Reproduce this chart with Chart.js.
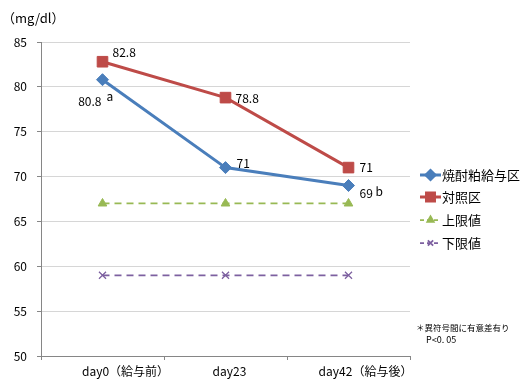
<!DOCTYPE html>
<html>
<head>
<meta charset="utf-8">
<script src="https://cdn.jsdelivr.net/npm/chart.js@4.4.1/dist/chart.umd.min.js"></script>
<style>
  html, body { margin: 0; padding: 0; background: #fff; }
  #wrap { width: 527px; height: 379px; position: relative; }
</style>
</head>
<body>
<div id="wrap"><canvas id="c" width="527" height="379"></canvas></div>
<script>
// Blood glucose by feeding period
const categories = ['day0（給与前）', 'day23', 'day42（給与後）'];
const shochuLees = [80.8, 71, 69];
const control = [82.8, 78.8, 71];
const upperLimit = [67, 67, 67];
const lowerLimit = [59, 59, 59];
const yTicks = [50, 55, 60, 65, 70, 75, 80, 85];
const seriesNames = ['焼酎粕給与区', '対照区', '上限値', '下限値'];
const sigMarks = ['a', '', 'b'];
const unitLabel = '（mg/dl）';
const noteLines = ['＊異符号間に有意差有り', 'P<0. 05'];

const FONT = '"Noto Sans CJK JP", "Noto Sans", sans-serif';
const TEXT = '#000000';

// horizontal nudge of each category caption from its tick centre
const categoryShift = [23, 4, 17];

// value label placement per series/point (dx, dy from the point, alignment)
const labelPlacement = {
  0: [{ dx: -1, dy: 22, align: 'right', sup: { dx: 4, dy: 17 } },
      { dx: 11, dy: -4, align: 'left' },
      { dx: 11, dy: 8, align: 'left', sup: { dx: 27, dy: 6 } }],
  1: [{ dx: 10, dy: -9, align: 'left' },
      { dx: 10, dy: 1, align: 'left' },
      { dx: 11, dy: 0, align: 'left' }]
};

const valueLabels = {
  id: 'valueLabels',
  afterDatasetsDraw(chart) {
    const ctx = chart.ctx;
    ctx.save();
    ctx.fillStyle = TEXT;
    ctx.textBaseline = 'middle';
    [0, 1].forEach(di => {
      const meta = chart.getDatasetMeta(di);
      const data = chart.data.datasets[di].data;
      meta.data.forEach((pt, i) => {
        const p = labelPlacement[di][i];
        ctx.font = '12px ' + FONT;
        ctx.textAlign = p.align;
        ctx.fillText(String(data[i]), pt.x + p.dx, pt.y + p.dy);
        if (di === 0 && sigMarks[i] && p.sup) {
          ctx.textAlign = 'left';
          ctx.fillText(sigMarks[i], pt.x + p.sup.dx, pt.y + p.sup.dy);
        }
      });
    });
    ctx.restore();
  }
};

// category captions under the x axis, positioned from the category scale
const categoryCaptions = {
  id: 'categoryCaptions',
  afterDraw(chart) {
    const ctx = chart.ctx;
    const xs = chart.scales.x;
    ctx.save();
    ctx.fillStyle = TEXT;
    ctx.font = '12px ' + FONT;
    ctx.textAlign = 'center';
    ctx.textBaseline = 'middle';
    categories.forEach((c, i) => {
      ctx.fillText(c, xs.getPixelForTick(i) + categoryShift[i], xs.bottom - 8);
    });
    ctx.restore();
  }
};

// legend at the right: short line sample with the marker, then the name
const sideLegend = {
  id: 'sideLegend',
  afterDraw(chart) {
    const ctx = chart.ctx;
    ctx.save();
    const x0 = 420, x1 = 441, rows = [175, 197, 220, 243];
    chart.data.datasets.forEach((ds, i) => {
      const y = rows[i];
      ctx.strokeStyle = ds.borderColor;
      ctx.lineWidth = ds.borderWidth;
      ctx.setLineDash(ds.borderDash ? [4, 3] : []);
      ctx.beginPath();
      ctx.moveTo(x0, y);
      ctx.lineTo(x1, y);
      ctx.stroke();
      ctx.setLineDash([]);
      ctx.fillStyle = ds.pointBackgroundColor;
      ctx.strokeStyle = ds.pointBorderColor;
      Chart.helpers.drawPoint(ctx, {
        pointStyle: ds.pointStyle,
        radius: ds.pointRadius * 0.75,
        borderWidth: ds.pointBorderWidth || 1
      }, (x0 + x1) / 2, y);
      ctx.fillStyle = TEXT;
      ctx.font = '13px ' + FONT;
      ctx.textAlign = 'left';
      ctx.textBaseline = 'middle';
      ctx.fillText(ds.label, x1 + 1, y);
    });
    ctx.restore();
  }
};

const annotations = {
  id: 'annotations',
  afterDraw(chart) {
    const ctx = chart.ctx;
    ctx.save();
    ctx.fillStyle = TEXT;
    ctx.textBaseline = 'middle';
    ctx.textAlign = 'left';
    ctx.font = '13px ' + FONT;
    ctx.fillText(unitLabel, 2, 18);
    ctx.font = '8.5px ' + FONT;
    ctx.fillText(noteLines[0], 416, 328);
    ctx.font = '9px ' + FONT;
    ctx.fillText(noteLines[1], 426, 340);
    ctx.restore();
  }
};

new Chart(document.getElementById('c'), {
  type: 'line',
  data: {
    labels: categories,
    datasets: [
      {
        label: seriesNames[0], data: shochuLees,
        borderColor: '#4A7EBB', backgroundColor: '#4A7EBB',
        borderWidth: 3, pointStyle: 'rectRot', pointRadius: 6,
        pointBorderWidth: 1, pointBackgroundColor: '#4A7EBB', pointBorderColor: '#4A7EBB'
      },
      {
        label: seriesNames[1], data: control,
        borderColor: '#BE4B48', backgroundColor: '#BE4B48',
        borderWidth: 3, pointStyle: 'rect', pointRadius: 7.5,
        pointBorderWidth: 1, pointBackgroundColor: '#BE4B48', pointBorderColor: '#BE4B48'
      },
      {
        label: seriesNames[2], data: upperLimit,
        borderColor: '#98B954', backgroundColor: '#98B954',
        borderWidth: 1.75, borderDash: [7, 5], pointStyle: 'triangle', pointRadius: 5,
        pointBorderWidth: 1, pointBackgroundColor: '#98B954', pointBorderColor: '#98B954'
      },
      {
        label: seriesNames[3], data: lowerLimit,
        borderColor: '#7D60A0', backgroundColor: '#7D60A0',
        borderWidth: 1.75, borderDash: [7, 5], pointStyle: 'crossRot', pointRadius: 5,
        pointBorderWidth: 1.25, pointBackgroundColor: '#7D60A0', pointBorderColor: '#7D60A0'
      }
    ]
  },
  options: {
    responsive: false,
    animation: false,
    devicePixelRatio: 1,
    layout: { padding: { top: 42, right: 117, left: 0, bottom: 0 } },
    plugins: { legend: { display: false }, tooltip: { enabled: false } },
    elements: { line: { tension: 0 } },
    scales: {
      x: {
        offset: true,
        grid: { display: true, drawOnChartArea: false, drawTicks: true, tickLength: 4, offset: true, color: '#868686' },
        border: { color: '#868686', width: 1 },
        ticks: { display: false },
        afterFit(s) { s.height = 23; }
      },
      y: {
        min: 50, max: 85,
        afterBuildTicks(s) { s.ticks = yTicks.map(v => ({ value: v })); },
        grid: { color: '#D6D6D6', drawTicks: true, tickLength: 4, tickColor: '#868686' },
        border: { color: '#868686', width: 1 },
        ticks: { color: TEXT, font: { family: FONT, size: 12 }, padding: 10 },
        afterFit(s) { s.width = 41; }
      }
    }
  },
  plugins: [valueLabels, categoryCaptions, sideLegend, annotations]
});
</script>
</body>
</html>
